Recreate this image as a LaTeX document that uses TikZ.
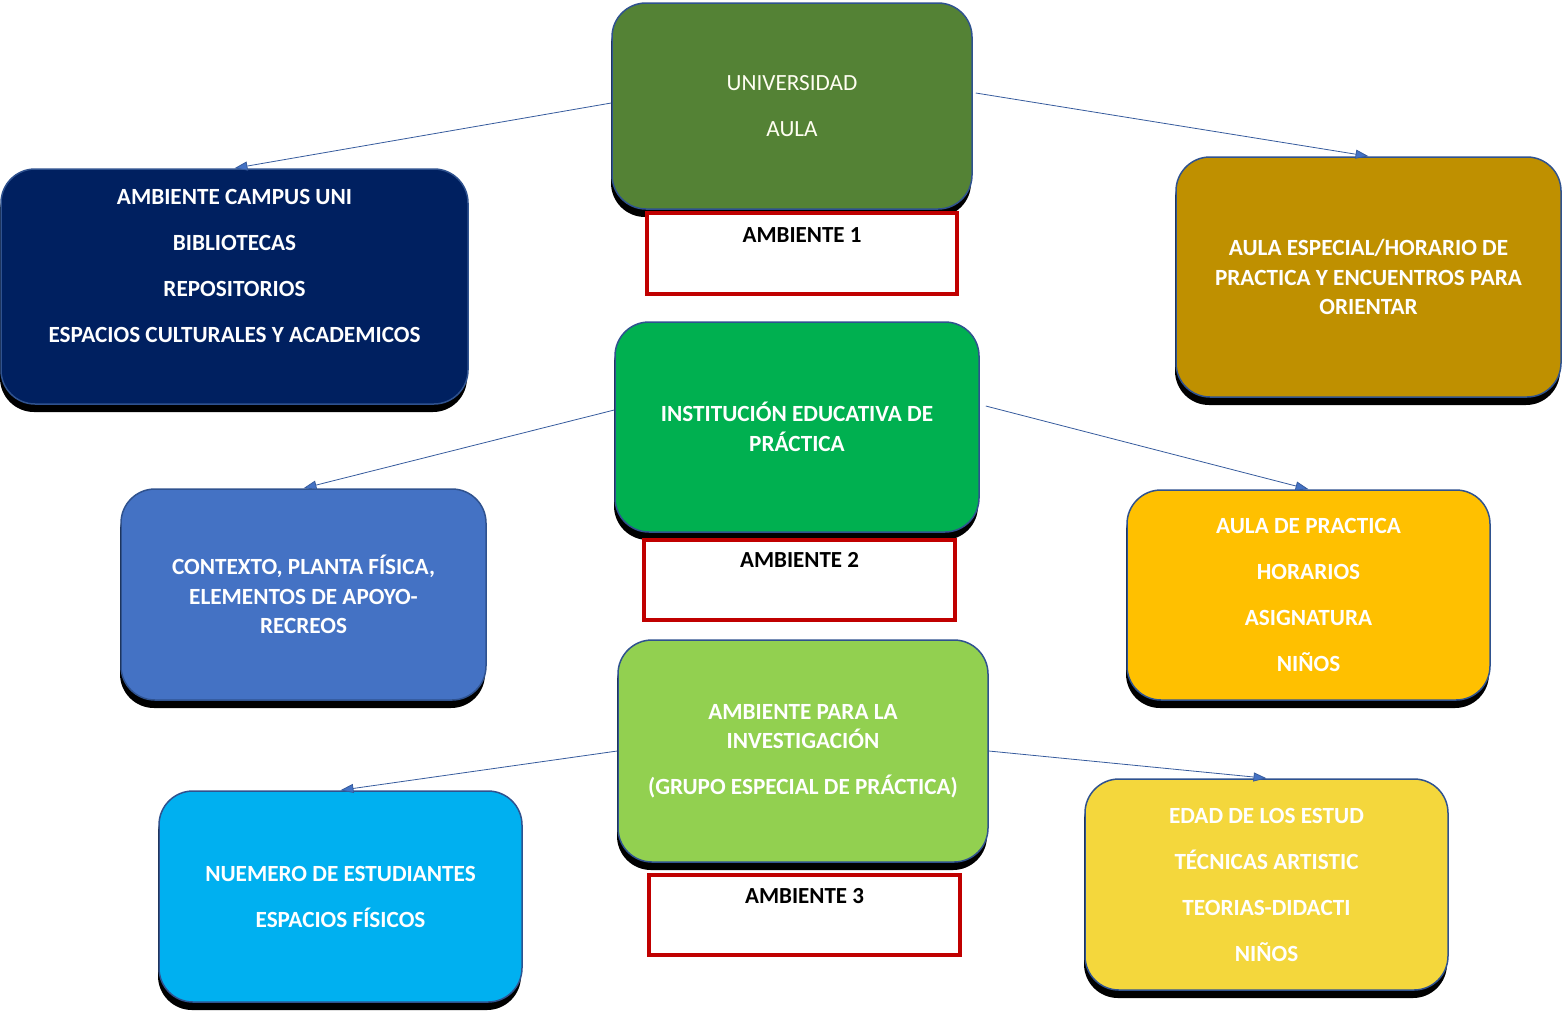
\documentclass[tikz,border=0pt]{standalone}
\usepackage{fontspec}
\setmainfont{Carlito}
\usetikzlibrary{arrows.meta,shadows}

\definecolor{bordeazul}{HTML}{2F528F}
\definecolor{flechaazul}{HTML}{4472C4}
\definecolor{rojoamb}{HTML}{C00000}
\definecolor{verdeuni}{HTML}{548235}
\definecolor{azulcampus}{HTML}{002060}
\definecolor{oroaula}{HTML}{BF9000}
\definecolor{verdeinst}{HTML}{00B050}
\definecolor{azulcontexto}{HTML}{4472C4}
\definecolor{amarilloaula}{HTML}{FFC000}
\definecolor{verdeinv}{HTML}{92D050}
\definecolor{celesteest}{HTML}{00B0F0}
\definecolor{amarilloedad}{HTML}{F4D73C}

\tikzstyle{caja}=[draw=bordeazul, line width=1.5pt, rounded corners=34pt, inner sep=0pt,
  align=center, text=white, font=\bfseries\fontsize{23.2}{29.5}\selectfont,
  drop shadow={shadow xshift=-1pt, shadow yshift=-8pt, opacity=1, fill=black}]
\tikzstyle{ambiente}=[draw=rojoamb, line width=3.5pt, fill=white, inner sep=0pt]
\tikzstyle{etiqueta}=[font=\bfseries\fontsize{23}{27}\selectfont, text=black]
\tikzstyle{flecha}=[draw=flechaazul!80!black, line width=0.8pt, -{Triangle[length=13pt,width=9pt,fill=flechaazul]}]

\begin{document}
\begin{tikzpicture}[x=1pt,y=-1pt]
\useasboundingbox (0,0) rectangle (1562,1012);

% ambiente 1
\node[caja, fill=verdeuni, minimum width=360pt, minimum height=206pt, text=white!95!yellow,
  font=\fontsize{23.2}{29.5}\selectfont] (univ) at (792,106) {UNIVERSIDAD\\[16.5pt]AULA};
\node[ambiente, minimum width=310pt, minimum height=81pt] (amb1) at (802,253.5) {};
\node[etiqueta] (amb1txt) at ([yshift=-24pt]amb1.north) {AMBIENTE 1};

\node[caja, fill=azulcampus, minimum width=467pt, minimum height=235pt] (campus) at (234.5,286.5) {};
\node[align=center, text=white, font=\bfseries\fontsize{23.2}{29.5}\selectfont] (campustxt)
  at ([yshift=21pt]campus.center)
  {AMBIENTE CAMPUS UNI\\[16.5pt]BIBLIOTECAS\\[16.5pt]REPOSITORIOS\\[16.5pt]ESPACIOS CULTURALES Y ACADEMICOS};

\node[caja, fill=oroaula, minimum width=385pt, minimum height=240pt] (aulaesp) at (1368.5,277)
  {AULA ESPECIAL/HORARIO DE\\PRACTICA Y ENCUENTROS PARA\\ORIENTAR};

% ambiente 2
\node[caja, fill=verdeinst, minimum width=364pt, minimum height=210pt] (inst) at (797,427)
  {INSTITUCIÓN EDUCATIVA DE\\PRÁCTICA};
\node[ambiente, minimum width=311pt, minimum height=80pt] (amb2) at (799.5,580) {};
\node[etiqueta] (amb2txt) at ([yshift=-22pt]amb2.north) {AMBIENTE 2};

\node[caja, fill=azulcontexto, minimum width=365pt, minimum height=211pt] (contexto) at (303.5,594.5)
  {CONTEXTO, PLANTA FÍSICA,\\ELEMENTOS DE APOYO-\\RECREOS};

\node[caja, fill=amarilloaula, minimum width=363pt, minimum height=210pt] (aulaprac) at (1308.5,595)
  {AULA DE PRACTICA\\[16.5pt]HORARIOS\\[16.5pt]ASIGNATURA\\[16.5pt]NIÑOS};

% ambiente 3
\node[caja, fill=verdeinv, minimum width=370pt, minimum height=222pt] (invest) at (803,751)
  {AMBIENTE PARA LA\\INVESTIGACIÓN\\[16.5pt](GRUPO ESPECIAL DE PRÁCTICA)};
\node[ambiente, minimum width=311pt, minimum height=80pt] (amb3) at (804.5,915) {};
\node[etiqueta] (amb3txt) at ([yshift=-23pt]amb3.north) {AMBIENTE 3};

\node[caja, fill=celesteest, minimum width=363pt, minimum height=211pt] (numero) at (340.5,896.5)
  {NUEMERO DE ESTUDIANTES\\[16.5pt]ESPACIOS FÍSICOS};

\node[caja, fill=amarilloedad, minimum width=363pt, minimum height=211pt] (edad) at (1266.5,884.5)
  {EDAD DE LOS ESTUD\\[16.5pt]TÉCNICAS ARTISTIC\\[16.5pt]TEORIAS-DIDACTI\\[16.5pt]NIÑOS};

% conectores
\draw[flecha] ([yshift=3pt]univ.west) -- (campus.north);
\draw[flecha] ([xshift=3pt,yshift=13pt]univ.east) -- (aulaesp.north);
\draw[flecha] ([yshift=17pt]inst.west) -- (contexto.north);
\draw[flecha] ([xshift=6pt,yshift=21pt]inst.east) -- (aulaprac.north);
\draw[flecha] (invest.west) -- (numero.north);
\draw[flecha] (invest.east) -- (edad.north);

\end{tikzpicture}
\end{document}
